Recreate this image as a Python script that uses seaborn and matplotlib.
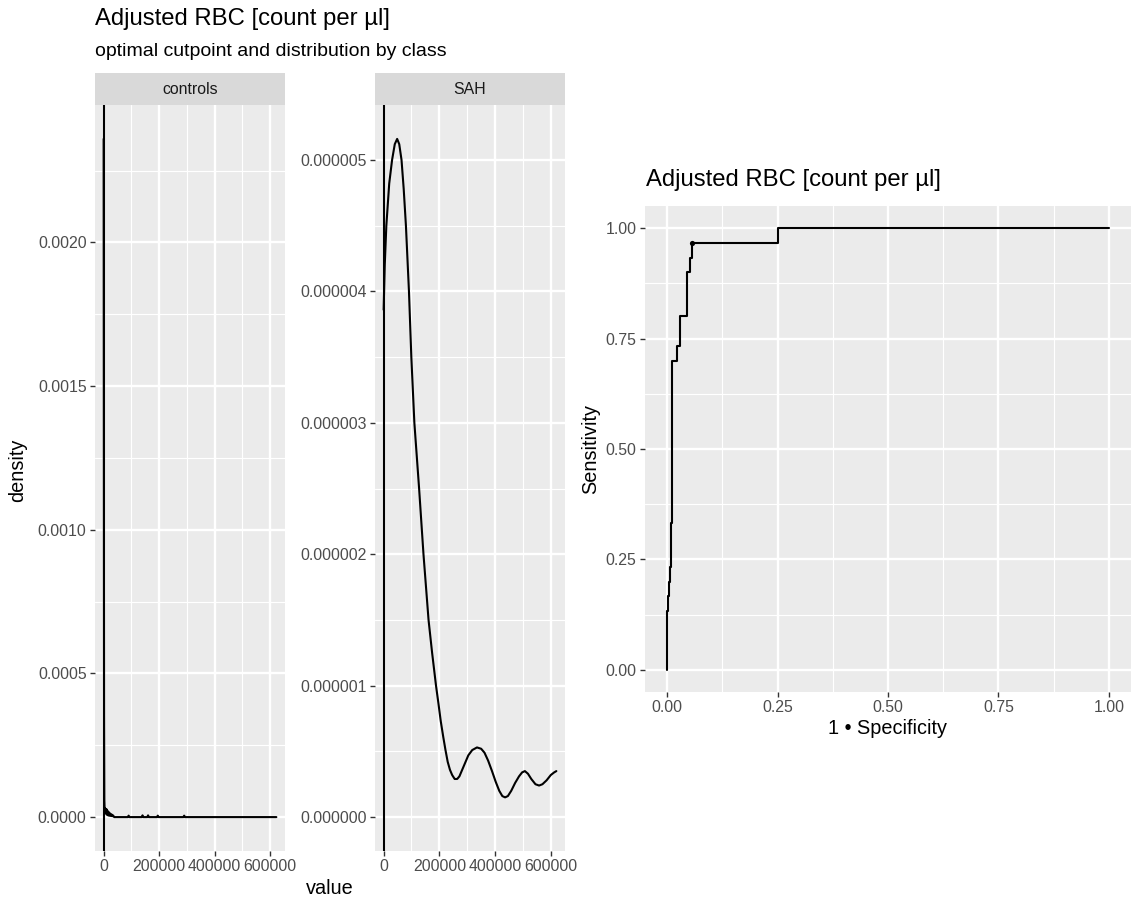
import numpy as np
import pandas as pd
import matplotlib
matplotlib.use("Agg")
import matplotlib.pyplot as plt
from matplotlib.ticker import AutoMinorLocator, MultipleLocator, FormatStrFormatter, FuncFormatter
import seaborn as sns

# ggplot-like grey theme
sns.set_theme(style="darkgrid")
plt.rcParams.update({
    "axes.facecolor": "#EBEBEB",
    "grid.color": "white",
    "axes.edgecolor": "#EBEBEB",
    "text.color": "black",
})
plt.rcParams["font.family"] = ["Liberation Sans", "DejaVu Sans"]

W, H = 1141, 900

TITLE = "Adjusted RBC [count per µl]"
SUBTITLE = "optimal cutpoint and distribution by class"
CLASSES = ["controls", "SAH"]
CUTPOINT = 1500

# density by class (y in units of 1e-6)
controls_x = [0, 700, 1500, 2500, 4000, 6000, 8000, 10000, 12000, 14000, 16000, 18000,
              20000, 22000, 25000, 28000, 31000, 34000, 38000, 45000, 87000, 90000, 93000,
              137000, 140000, 143000, 157000, 160000, 163000, 192000, 195000, 198000,
              287000, 290000, 293000, 622000]
controls_y = [2360, 1400, 350, 60, 15, 30, 12, 28, 8, 22, 6, 18,
              5, 14, 4, 10, 3, 6, 0, 0, 0, 5, 0,
              0, 6, 0, 0, 6, 0, 0, 5, 0,
              0, 5, 0, 0]

sah_x = [0, 4000, 9700, 20000, 30300, 40000, 48500, 56000, 64200, 72000, 80000, 90900,
         99400, 110300, 127300, 143000, 161200, 174000, 188000, 197000, 205000, 214000,
         222000, 230000, 238000, 246000, 255000, 264000, 272000, 282000, 292000, 304000,
         318000, 335000, 350000, 362000, 375000, 389000, 402000, 415000, 426000, 436000,
         446000, 458000, 472000, 486000, 497000, 507000, 518000, 530000, 545000, 558000,
         570000, 585000, 600000, 612000, 620000]
sah_y = [3.86, 4.20, 4.50, 4.82, 5.00, 5.12, 5.16, 5.12, 5.00, 4.78, 4.50, 4.00,
         3.50, 3.00, 2.50, 2.00, 1.50, 1.25, 1.00, 0.86, 0.73, 0.61,
         0.51, 0.42, 0.36, 0.32, 0.29, 0.29, 0.31, 0.36, 0.41, 0.47,
         0.51, 0.53, 0.52, 0.49, 0.43, 0.35, 0.27, 0.20, 0.16, 0.15,
         0.16, 0.20, 0.26, 0.31, 0.34, 0.35, 0.33, 0.29, 0.25, 0.24,
         0.25, 0.28, 0.32, 0.34, 0.35]

# ROC curve corner points
fpr = [0, 0, 0.0023, 0.0045, 0.0068, 0.009, 0.0113, 0.0226, 0.030, 0.046, 0.051, 0.057, 0.25, 1.0]
tpr = [0, 0.133, 0.167, 0.200, 0.233, 0.333, 0.700, 0.733, 0.800, 0.900, 0.933, 0.967, 1.0, 1.0]
opt_fpr = [0.057]
opt_tpr = [0.967]

TICK_SIZE = 11.4
LABEL_SIZE = 14.3


def px_axes(fig, left, top, right, bottom):
    return fig.add_axes([left / W, 1 - bottom / H, (right - left) / W, (bottom - top) / H])


def style_ax(ax):
    for s in ax.spines.values():
        s.set_visible(False)
    ax.set_axisbelow(True)
    ax.xaxis.set_minor_locator(AutoMinorLocator(2))
    ax.yaxis.set_minor_locator(AutoMinorLocator(2))
    ax.grid(which="major", color="white", linewidth=1.7)
    ax.grid(which="minor", color="white", linewidth=0.85)
    ax.tick_params(which="major", length=3.6, width=1.0, color="#333333",
                   labelsize=TICK_SIZE, labelcolor="#4D4D4D", pad=2.5,
                   bottom=True, left=True)
    ax.tick_params(which="minor", length=0)
    ax.set_xlabel("")
    ax.set_ylabel("")


def strip(fig, left, right, label):
    s = px_axes(fig, left, 73, right, 105)
    s.set_facecolor("#D9D9D9")
    s.grid(False)
    s.set_xticks([])
    s.set_yticks([])
    for sp in s.spines.values():
        sp.set_visible(False)
    s.text(0.5, 0.48, label, ha="center", va="center", fontsize=TICK_SIZE, color="#1A1A1A")


fig = plt.figure(figsize=(W / 100, H / 100), dpi=100)
fig.patch.set_facecolor("white")

densities = {
    "controls": (controls_x, np.array(controls_y) * 1e-6, 0.0005, "%.4f", (95, 285)),
    "SAH": (sah_x, np.array(sah_y) * 1e-6, 0.000001, "%.6f", (375, 565)),
}

for cls in CLASSES:
    xs, ys, ystep, yfmt, (l, r) = densities[cls]
    df = pd.DataFrame({"value": xs, "density": ys})
    ax = px_axes(fig, l, 105, r, 851)
    sns.lineplot(data=df, x="value", y="density", ax=ax, color="black",
                 linewidth=1.5, estimator=None, sort=False)
    ax.axvline(CUTPOINT, color="black", linewidth=1.5)
    xmin, xmax = min(xs), max(xs)
    xr = xmax - xmin
    ax.set_xlim(xmin - 0.05 * xr, xmax + 0.05 * xr)
    ymax = max(ys)
    ax.set_ylim(-0.05 * ymax, 1.05 * ymax)
    ax.xaxis.set_major_locator(MultipleLocator(200000))
    ax.xaxis.set_major_formatter(FuncFormatter(lambda v, p: f"{int(round(v))}"))
    ax.yaxis.set_major_locator(MultipleLocator(ystep))
    ax.yaxis.set_major_formatter(FormatStrFormatter(yfmt))
    style_ax(ax)
    strip(fig, l, r, cls)

# ROC panel
roc = pd.DataFrame({"fpr": fpr, "tpr": tpr})
ax3 = px_axes(fig, 645, 206, 1131, 692)
sns.lineplot(data=roc, x="fpr", y="tpr", ax=ax3, color="black", linewidth=1.5,
             estimator=None, sort=False, drawstyle="steps-post")
sns.scatterplot(x=opt_fpr, y=opt_tpr, ax=ax3, color="black", s=14, edgecolor="black", linewidth=0)
ax3.set_xlim(-0.05, 1.05)
ax3.set_ylim(-0.05, 1.05)
ax3.xaxis.set_major_locator(MultipleLocator(0.25))
ax3.yaxis.set_major_locator(MultipleLocator(0.25))
ax3.xaxis.set_major_formatter(FormatStrFormatter("%.2f"))
ax3.yaxis.set_major_formatter(FormatStrFormatter("%.2f"))
style_ax(ax3)

# titles and axis labels
fig.text(95 / W, 1 - 25 / H, TITLE, fontsize=17.2, ha="left", va="baseline")
fig.text(95 / W, 1 - 56 / H, SUBTITLE, fontsize=LABEL_SIZE * 0.98, ha="left", va="baseline")
fig.text(646 / W, 1 - 186 / H, TITLE, fontsize=17.2, ha="left", va="baseline")
fig.text(18 / W, 1 - 470 / H, "density", fontsize=LABEL_SIZE, rotation=90, ha="center", va="center")
fig.text(330 / W, 1 - 888 / H, "value", fontsize=LABEL_SIZE, ha="center", va="center")
fig.text(591 / W, 1 - 449 / H, "Sensitivity", fontsize=LABEL_SIZE, rotation=90, ha="center", va="center")
fig.text(888 / W, 1 - 728 / H, "1 • Specificity", fontsize=LABEL_SIZE, ha="center", va="center")

fig.savefig("out.png", dpi=100)
